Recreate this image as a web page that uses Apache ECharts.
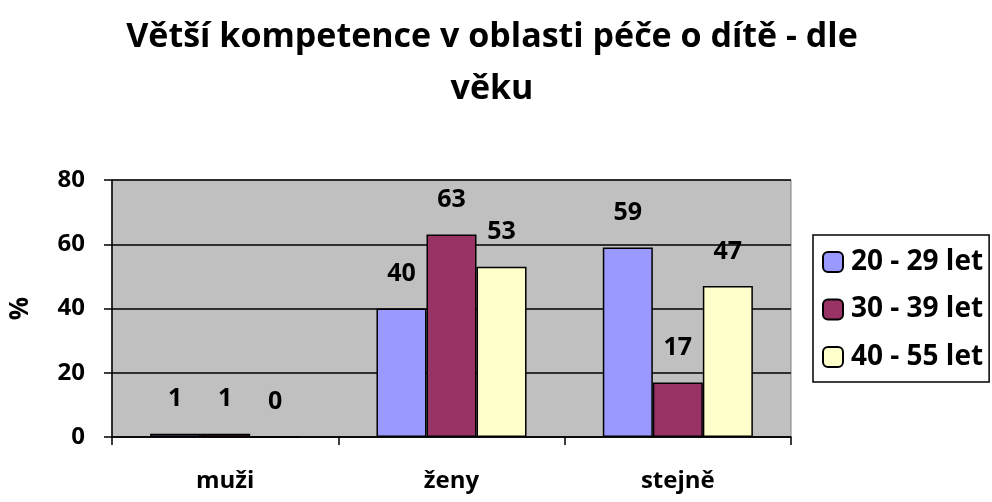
<!DOCTYPE html>
<html>
<head>
<meta charset="utf-8">
<script src="https://cdn.jsdelivr.net/npm/echarts@6/dist/echarts.min.js"></script>
<style>
  html, body { margin: 0; padding: 0; background: #fff; }
  #chart { width: 992px; height: 502px; }
</style>
</head>
<body>
<div id="chart"></div>
<script>
// kategorie a hodnoty (%)
var categories = ['muži', 'ženy', 'stejně'];
var seriesNames = ['20 - 29 let', '30 - 39 let', '40 - 55 let'];
var age20 = [1, 40, 59];
var age30 = [1, 63, 17];
var age40 = [0, 53, 47];
var yTicks = [0, 20, 40, 60, 80];

var colors = ['#9999FF', '#993366', '#FFFFCC'];
var font = '"Open Sans", "DejaVu Sans", sans-serif';

var myChart = echarts.init(document.getElementById('chart'));

function bar(name, data, color) {
	return {
		name: name,
		type: 'bar',
		data: data,
		barGap: '0%',
		barCategoryGap: '33.7%',
		itemStyle: { color: color, borderColor: '#000', borderWidth: 1.5 },
		label: {
			show: true,
			position: 'top',
			distance: 22,
			color: '#000',
			fontFamily: font,
			fontWeight: 'bold',
			fontSize: 25
		}
	};
}

var option = {
	animation: false,
	backgroundColor: '#fff',
	title: {
		text: 'Větší kompetence v oblasti péče o dítě - dle\nvěku',
		left: 487,
		textAlign: 'center',
		top: 6,
		textStyle: {
			fontFamily: font,
			fontWeight: 'bold',
			fontSize: 34,
			lineHeight: 52,
			color: '#000'
		}
	},
	legend: {
		orient: 'vertical',
		left: 813,
		top: 235,
		itemWidth: 20,
		itemHeight: 20,
		itemGap: 19.5,
		padding: [13, 6, 11, 9],
		borderColor: '#000',
		borderWidth: 1.5,
		backgroundColor: '#fff',
		textStyle: { fontFamily: font, fontWeight: 'bold', fontSize: 28, color: '#000', padding: [0, 0, 0, 3] },
		data: seriesNames
	},
	grid: { left: 112, right: 201, top: 180, bottom: 65, show: true, backgroundColor: '#C0C0C0', borderColor: '#808080', borderWidth: 1 },
	xAxis: {
		type: 'category',
		data: categories,
		axisLine: { lineStyle: { color: '#000', width: 1.5 } },
		axisTick: { show: true, length: 8, lineStyle: { color: '#000', width: 1.5 } },
		axisLabel: { color: '#000', fontFamily: font, fontWeight: 'bold', fontSize: 24, margin: 32 }
	},
	yAxis: {
		type: 'value',
		min: yTicks[0],
		max: yTicks[yTicks.length - 1],
		interval: 20,
		name: '%',
		nameLocation: 'middle',
		nameGap: 78,
		nameTextStyle: { color: '#000', fontFamily: font, fontWeight: 'bold', fontSize: 26 },
		axisLine: { show: true, lineStyle: { color: '#000', width: 1.5 } },
		axisTick: { show: true, length: 8, lineStyle: { color: '#000', width: 1.5 } },
		splitLine: { lineStyle: { color: '#000', width: 1.5 } },
		axisLabel: { color: '#000', fontFamily: font, fontWeight: 'bold', fontSize: 24, margin: 27 }
	},
	series: [
		bar(seriesNames[0], age20, colors[0]),
		bar(seriesNames[1], age30, colors[1]),
		bar(seriesNames[2], age40, colors[2])
	]
};
myChart.setOption(option);
</script>
</body>
</html>
